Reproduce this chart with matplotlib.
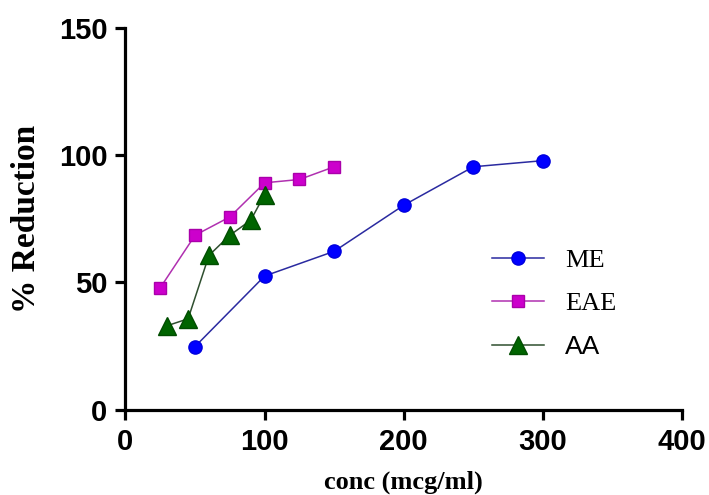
import matplotlib.pyplot as plt

# readings
me_conc = [50, 100, 150, 200, 250, 300]
me_red = [24.8, 52.5, 62.2, 80.3, 95.4, 97.8]

eae_conc = [25, 50, 75, 100, 125, 150]
eae_red = [47.9, 68.5, 75.7, 89.1, 90.4, 95.4]

aa_conc = [30, 45, 60, 75, 90, 100]
aa_red = [33.0, 35.7, 60.6, 68.5, 74.4, 84.5]

xticks = [0, 100, 200, 300, 400]
yticks = [0, 50, 100, 150]

fig = plt.figure(figsize=(7.09, 4.95), dpi=100)
ax = fig.add_axes([0.177, 0.1723, 0.785, 0.7717])

ax.plot(me_conc, me_red, color='#2a2aa0', lw=1.1, marker='o', ms=9.5,
        mfc='#0000ff', mec='#0000dd', label='ME')
ax.plot(eae_conc, eae_red, color='#b030b0', lw=1.1, marker='s', ms=9,
        mfc='#cc00cc', mec='#aa00aa', label='EAE')
ax.plot(aa_conc, aa_red, color='#2f4f2f', lw=1.1, marker='^', ms=13,
        mfc='#006400', mec='#004d00', label='AA')

ax.set_xlim(0, 400)
ax.set_ylim(0, 150)
ax.set_xticks(xticks)
ax.set_yticks(yticks)

for s in ['top', 'right']:
    ax.spines[s].set_visible(False)
for s in ['left', 'bottom']:
    ax.spines[s].set_linewidth(2.3)

ax.tick_params(direction='out', length=7, width=2.3, pad=6)
for lab in ax.get_xticklabels() + ax.get_yticklabels():
    lab.set_fontfamily('Liberation Sans')
    lab.set_fontweight('bold')
    lab.set_fontsize(21)

ax.set_xlabel('conc (mcg/ml)', family='Liberation Serif', fontweight='bold',
              fontsize=19, labelpad=11)
ax.set_ylabel('% Reduction', family='Liberation Serif', fontweight='bold',
              fontsize=24, labelpad=12)

leg = ax.legend(loc='center left', bbox_to_anchor=(0.615, 0.277), frameon=False,
                handlelength=2.0, handletextpad=0.8, labelspacing=0.75,
                prop={'family': 'Liberation Serif', 'size': 19})
leg.get_texts()[2].set_fontfamily('Liberation Sans')

fig.savefig('out.png', dpi=100)
